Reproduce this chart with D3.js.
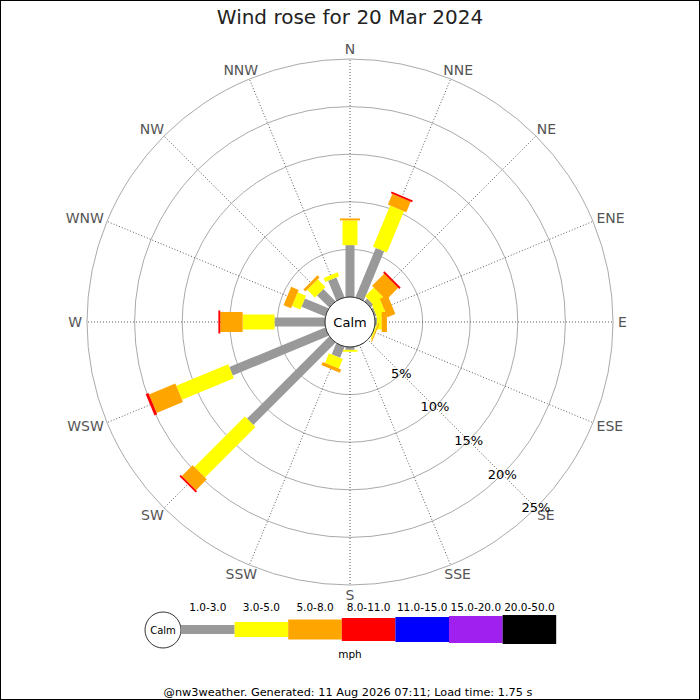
<!DOCTYPE html>
<html>
<head>
<meta charset="utf-8">
<script src="https://cdn.jsdelivr.net/npm/d3@7"></script>
<style>
  body { margin: 0; background: #fff; }
  svg { font-family: "DejaVu Sans", sans-serif; display: block; }
</style>
</head>
<body>
<svg id="chart"></svg>
<script>
// wind directions, clockwise from north
const directions = ["N", "NNE", "NE", "ENE", "E", "ESE", "SE", "SSE",
                    "S", "SSW", "SW", "WSW", "W", "WNW", "NW", "NNW"];
const speedBins = ["1.0-3.0", "3.0-5.0", "5.0-8.0", "8.0-11.0", "11.0-15.0", "15.0-20.0", "20.0-50.0"];
const binColors = ["#999999", "#ffff00", "#ffa500", "#ff0000", "#0000ff", "#a020f0", "#000000"];

// % of time per direction, one array per speed bin
const pct1to3   = [5.45, 5.6, 0.4, 0.2, 0.2, 0.05, 0, 0.05, 0.3, 1.25, 12.2, 10.9, 5.3, 2.7, 1.8, 2.25];
const pct3to5   = [2.6, 4.7, 1.3, 1.0, 0.5, 0.15, 0, 0, 0.2, 1.1, 7.5, 5.9, 3.35, 0.95, 1.15, 0.45];
const pct5to8   = [0.2, 1.2, 1.8, 0.9, 0.55, 0.1, 0, 0, 0, 0.35, 1.6, 3.0, 2.35, 0.85, 0.3, 0];
const pct8to11  = [0, 0.2, 0.2, 0, 0, 0, 0, 0, 0, 0, 0.2, 0.3, 0.2, 0, 0, 0];
const pct11to15 = new Array(16).fill(0);
const pct15to20 = new Array(16).fill(0);
const pct20to50 = new Array(16).fill(0);
const ringTicks = [5, 10, 15, 20, 25];

const series = [pct1to3, pct3to5, pct5to8, pct8to11, pct11to15, pct15to20, pct20to50];
const barWidths = [9, 15, 20, 23, 25, 27, 29];

const W = 700, H = 700, cx = 350, cy = 322, calmR = 25;

const svg = d3.select("#chart").attr("width", W).attr("height", H);

svg.append("rect")
  .attr("x", 0.5).attr("y", 0.5)
  .attr("width", W - 1).attr("height", H - 1)
  .attr("fill", "#fff").attr("stroke", "#000");

svg.append("text")
  .attr("x", cx).attr("y", 17)
  .attr("text-anchor", "middle").attr("dominant-baseline", "central")
  .attr("fill", "#222").style("font-size", "20px")
  .text("Wind rose for 20 Mar 2024");

const r = d3.scaleLinear().domain([0, 25]).range([calmR, 263]);
const angle = d3.scaleBand().domain(directions).range([0, 360]).align(0).paddingInner(0);
const rad = d => angle(d) * Math.PI / 180; // clockwise from north

const g = svg.append("g").attr("transform", `translate(${cx},${cy})`);

// rings
g.selectAll("circle.ring")
  .data(ringTicks)
  .enter().append("circle")
  .attr("class", "ring")
  .attr("r", d => r(d))
  .attr("fill", "none")
  .attr("stroke", "#aaa")
  .attr("stroke-width", 1);

// spokes
g.selectAll("line.spoke")
  .data(directions)
  .enter().append("line")
  .attr("class", "spoke")
  .attr("x1", 0).attr("y1", 0)
  .attr("x2", d => r(25) * Math.sin(rad(d)))
  .attr("y2", d => -r(25) * Math.cos(rad(d)))
  .attr("stroke", "#333")
  .attr("stroke-width", 0.8)
  .attr("stroke-dasharray", "1,2");

// bars, stacked outwards
directions.forEach((dir, i) => {
  const bar = g.append("g").attr("transform", `rotate(${angle(dir)})`);
  let cum = 0;
  series.forEach((vals, k) => {
    const v = vals[i];
    if (v <= 0) return;
    const r0 = r(cum), r1 = r(cum + v);
    cum += v;
    bar.append("rect")
      .attr("x", -barWidths[k] / 2)
      .attr("y", -r1)
      .attr("width", barWidths[k])
      .attr("height", r1 - r0)
      .attr("fill", binColors[k]);
  });
});

// calm circle
g.append("circle")
  .attr("r", calmR)
  .attr("fill", "#fff")
  .attr("stroke", "#000")
  .attr("stroke-width", 0.8);
g.append("text")
  .attr("text-anchor", "middle").attr("dominant-baseline", "central")
  .style("font-size", "13px").attr("fill", "#000")
  .text("Calm");

// direction labels, pushed outwards so the box touches the label radius
const labR = 268;
g.selectAll("text.dir")
  .data(directions)
  .enter().append("text")
  .attr("class", "dir")
  .attr("text-anchor", "middle").attr("dominant-baseline", "central")
  .attr("fill", "#555").style("font-size", "14px")
  .text(d => d)
  .each(function(d) {
    const w = this.getComputedTextLength();
    const s = Math.sin(rad(d)), c = Math.cos(rad(d));
    d3.select(this)
      .attr("x", labR * s + s * w / 2)
      .attr("y", -labR * c - c * 5);
  });

// percentage labels along SE
g.selectAll("text.pct")
  .data(ringTicks)
  .enter().append("text")
  .attr("class", "pct")
  .attr("x", d => r(d) * Math.SQRT1_2)
  .attr("y", d => r(d) * Math.SQRT1_2)
  .attr("text-anchor", "middle").attr("dominant-baseline", "central")
  .attr("fill", "#000").style("font-size", "13px")
  .text(d => d + "%");

// legend
const legX = 181, legW = 53.6, legY = 629.5;
const legend = svg.append("g");
legend.append("circle")
  .attr("cx", 163).attr("cy", 630).attr("r", 18)
  .attr("fill", "#fff").attr("stroke", "#000").attr("stroke-width", 0.8);
legend.append("text")
  .attr("x", 163).attr("y", 630)
  .attr("text-anchor", "middle").attr("dominant-baseline", "central")
  .style("font-size", "10px").text("Calm");

speedBins.forEach((lab, k) => {
  legend.append("rect")
    .attr("x", legX + k * legW)
    .attr("y", legY - barWidths[k] / 2)
    .attr("width", legW)
    .attr("height", barWidths[k])
    .attr("fill", binColors[k]);
  legend.append("text")
    .attr("x", legX + k * legW + legW / 2)
    .attr("y", 607)
    .attr("text-anchor", "middle").attr("dominant-baseline", "central")
    .style("font-size", "10.5px").attr("fill", "#000")
    .text(lab);
});

legend.append("text")
  .attr("x", 350).attr("y", 654)
  .attr("text-anchor", "middle").attr("dominant-baseline", "central")
  .style("font-size", "10.5px").text("mph");

svg.append("text")
  .attr("x", 348).attr("y", 692)
  .attr("text-anchor", "middle").attr("dominant-baseline", "central")
  .style("font-size", "11.3px").attr("fill", "#000")
  .text("@nw3weather. Generated: 11 Aug 2026 07:11; Load time: 1.75 s");
</script>
</body>
</html>
